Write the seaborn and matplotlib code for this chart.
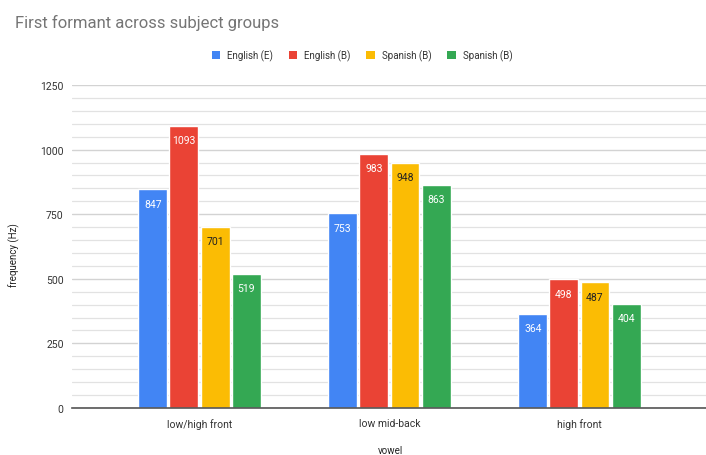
import matplotlib
matplotlib.use("Agg")
import matplotlib.pyplot as plt
from matplotlib.patches import Patch
from matplotlib.ticker import MultipleLocator
import pandas as pd
import seaborn as sns

# Mean F1 values (Hz) per vowel and speaker group
vowels = ["low/high front", "low mid-back", "high front"]
series_labels = ["English (E)", "English (B)", "Spanish (B)", "Spanish (B)"]
english_e = [847, 753, 364]
english_b = [1093, 983, 498]
spanish_b1 = [701, 948, 487]
spanish_b2 = [519, 863, 404]
series_colors = ["#4285F4", "#EA4335", "#FBBC04", "#34A853"]
label_colors = ["white", "white", "#222222", "white"]
y_ticks = [0, 250, 500, 750, 1000, 1250]

all_series = [english_e, english_b, spanish_b1, spanish_b2]
series_keys = [f"s{i}" for i in range(len(all_series))]
rows = []
for key, vals in zip(series_keys, all_series):
    for v, hz in zip(vowels, vals):
        rows.append({"vowel": v, "series": key, "hz": hz})
df = pd.DataFrame(rows)

sns.set_theme(style="white")
plt.rcParams["font.family"] = ["Roboto", "DejaVu Sans"]

fig = plt.figure(figsize=(7.06, 4.56), dpi=100)
ax = fig.add_axes([72 / 706, 47 / 456, 1 - 72 / 706, (409 - 86) / 456])

sns.barplot(
    data=df, x="vowel", y="hz", hue="series",
    order=vowels, hue_order=series_keys,
    palette=dict(zip(series_keys, series_colors)),
    width=0.655, gap=0.07, saturation=1, legend=False,
    errorbar=None, ax=ax, zorder=3,
)

for cont, vals, lc in zip(ax.containers, all_series, label_colors):
    ax.bar_label(cont, labels=[str(v) for v in vals], padding=-14,
                 color=lc, fontsize=7.5, zorder=4)

ax.set_xlim(-0.671, 2.666)
ax.set_ylim(0, 1250)
ax.set_yticks(y_ticks)
ax.yaxis.set_minor_locator(MultipleLocator(50))
ax.grid(axis="y", which="major", color="#d3d3d3", linewidth=1.0, zorder=0)
ax.grid(axis="y", which="minor", color="#e2e2e2", linewidth=0.9, zorder=0)
ax.set_axisbelow(True)
for side in ["top", "right", "left"]:
    ax.spines[side].set_visible(False)
ax.spines["bottom"].set_color("#555555")
ax.spines["bottom"].set_linewidth(1.2)
ax.spines["bottom"].set_zorder(5)
ax.tick_params(axis="both", which="both", length=0, labelsize=7.5,
               labelcolor="#333333")
ax.tick_params(axis="y", pad=6)
ax.tick_params(axis="x", pad=7)

ax.set_ylabel("frequency (Hz)", fontsize=7, color="#222222")
ax.yaxis.set_label_coords(-52 / 634, (409 - 255) / 323)
ax.set_xlabel("vowel", fontsize=7, color="#222222")
ax.xaxis.set_label_coords((390 - 72) / 634, -(446 - 409) / 323)

fig.text(15 / 706, 1 - 23 / 456, "First formant across subject groups",
         fontsize=12, color="#757575", va="center", ha="left")

handles = [Patch(facecolor=c, edgecolor="none") for c in series_colors]
fig.legend(handles, series_labels, loc="center", ncol=4,
           bbox_to_anchor=(362 / 706, 1 - 56 / 456), frameon=False,
           fontsize=7, handlelength=0.9, handleheight=0.9,
           handletextpad=0.7, columnspacing=1.6, labelcolor="#333333")

fig.savefig("out.png", dpi=100)
